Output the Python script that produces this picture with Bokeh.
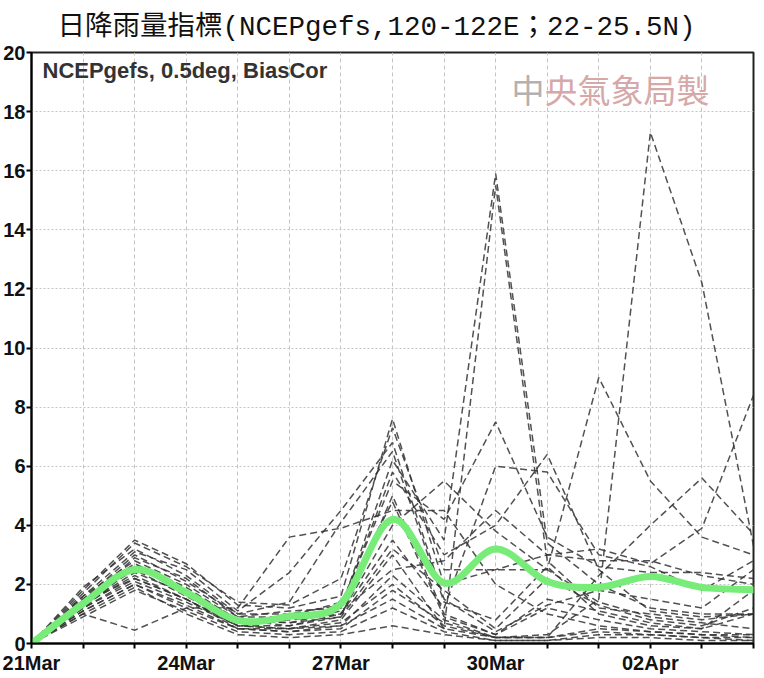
from bokeh.plotting import figure
from bokeh.models import FixedTicker, Label, Range1d
from bokeh.embed import file_html
from bokeh.resources import INLINE

# ---------------- data ----------------
dates = ["21Mar", "22Mar", "23Mar", "24Mar", "25Mar", "26Mar", "27Mar", "28Mar",
         "29Mar", "30Mar", "31Mar", "01Apr", "02Apr", "03Apr", "04Apr"]
labelled_dates = ["21Mar", "24Mar", "27Mar", "30Mar", "02Apr"]
y_ticks = [0, 2, 4, 6, 8, 10, 12, 14, 16, 18, 20]

# ensemble members (daily rainfall index, mm)
m00 = [0, 1.5, 2.6, 1.8, 0.8, 0.7, 0.9, 5.0, 1.0, 0.3, 1.2, 0.8, 0.5, 0.4, 0.3]
m01 = [0, 1.2, 2.2, 1.5, 0.6, 0.5, 0.8, 3.0, 0.5, 15.5, 2.8, 1.2, 1.0, 0.8, 1.0]
m02 = [0, 1.8, 3.5, 2.7, 1.3, 1.2, 1.6, 7.6, 2.0, 2.5, 3.0, 2.8, 2.8, 2.3, 2.0]
m03 = [0, 1.0, 0.45, 1.2, 1.2, 3.6, 3.9, 4.5, 4.5, 2.0, 1.0, 0.6, 0.4, 0.3, 0.2]
m04 = [0, 1.4, 2.9, 2.2, 0.9, 0.9, 1.2, 6.2, 3.5, 15.9, 3.4, 2.0, 1.2, 1.0, 1.0]
m05 = [0, 1.6, 3.1, 2.5, 1.1, 2.4, 4.5, 6.8, 1.5, 0.4, 1.3, 1.8, 1.5, 1.2, 2.5]
m06 = [0, 1.1, 2.0, 1.3, 0.5, 0.4, 0.6, 2.3, 0.8, 0.2, 0.2, 2.3, 4.0, 5.6, 3.7]
m07 = [0, 1.3, 2.4, 1.7, 0.7, 0.8, 1.0, 4.0, 5.5, 3.8, 2.5, 1.4, 0.9, 0.7, 0.5]
m08 = [0, 0.9, 1.8, 1.1, 0.4, 0.3, 0.4, 1.2, 0.4, 0.1, 0.1, 0.3, 0.3, 0.2, 0.1]
m09 = [0, 1.7, 3.4, 2.6, 1.4, 1.3, 2.2, 7.3, 2.5, 2.5, 2.5, 9.0, 5.5, 3.6, 3.0]
m10 = [0, 1.5, 2.7, 1.9, 0.8, 0.6, 1.0, 3.5, 1.2, 6.0, 5.8, 3.0, 2.6, 1.8, 2.8]
m11 = [0, 1.2, 2.1, 1.4, 0.6, 0.5, 0.7, 2.0, 0.6, 0.2, 0.2, 0.4, 0.3, 0.2, 0.2]
m12 = [0, 1.9, 3.2, 2.3, 1.0, 1.0, 1.3, 5.5, 4.2, 7.5, 3.6, 2.6, 2.4, 2.4, 2.2]
m13 = [0, 1.4, 2.5, 1.6, 0.7, 0.9, 1.4, 4.8, 0.9, 0.3, 1.5, 1.1, 0.7, 0.5, 1.8]
m14 = [0, 1.0, 1.9, 1.0, 0.3, 0.2, 0.3, 0.6, 0.3, 0.1, 0.1, 0.2, 0.2, 0.1, 0.1]
m15 = [0, 1.6, 2.8, 2.0, 0.9, 1.1, 1.2, 5.8, 3.0, 4.0, 6.4, 2.5, 1.1, 0.9, 1.0]
m16 = [0, 1.3, 2.3, 1.5, 0.6, 0.6, 0.9, 3.2, 1.8, 0.5, 2.2, 1.3, 0.8, 0.6, 1.2]
m17 = [0, 1.1, 2.0, 1.2, 0.5, 0.4, 0.5, 1.8, 0.7, 0.2, 0.3, 1.5, 17.3, 12.2, 3.3]
m18 = [0, 1.5, 3.0, 2.1, 1.0, 1.4, 4.1, 6.5, 1.4, 0.8, 2.6, 1.0, 0.6, 0.5, 1.0]
m19 = [0, 1.2, 2.6, 1.8, 0.8, 0.7, 1.1, 2.5, 2.8, 4.5, 3.0, 3.2, 2.7, 3.9, 8.4]
m20 = [0, 1.4, 2.2, 1.5, 0.5, 0.5, 0.6, 1.5, 0.5, 0.2, 0.2, 0.5, 0.4, 0.3, 0.3]
members = [m00, m01, m02, m03, m04, m05, m06, m07, m08, m09, m10,
           m11, m12, m13, m14, m15, m16, m17, m18, m19, m20]

# ensemble mean (green curve)
ens_mean = [0, 1.35, 2.5, 1.73, 0.78, 0.92, 1.35, 4.2, 2.05, 3.2, 2.1, 1.9, 2.27, 1.9, 1.82]

title_text = "日降雨量指標(NCEPgefs,120-122E；22-25.5N)"
subtitle_text = "NCEPgefs, 0.5deg, BiasCor"

day = list(range(len(dates)))

# ---------------- figure ----------------
p = figure(width=764, height=678,
           x_range=Range1d(0, len(dates) - 1), y_range=Range1d(0, 20),
           output_backend="svg", toolbar_location=None,
           min_border_left=29, min_border_right=11,
           min_border_top=52, min_border_bottom=35)
p.background_fill_color = "white"
p.border_fill_color = "white"
p.outline_line_color = "#222222"
p.outline_line_width = 2

p.title.text = title_text
p.title.align = "left"
p.title.offset = 26
p.title.text_font = "'Liberation Mono', 'Noto Sans CJK TC', monospace"
p.title.text_font_size = "27.5px"
p.title.text_font_style = "normal"
p.title.text_color = "#111111"
p.title.standoff = 19

lab_font = "'Liberation Sans', Arial, sans-serif"

p.yaxis.ticker = FixedTicker(ticks=y_ticks)
p.xaxis.ticker = FixedTicker(ticks=day)
p.xaxis.major_label_overrides = {i: (d if d in labelled_dates else "") for i, d in enumerate(dates)}
for ax in (p.xaxis[0], p.yaxis[0]):
    ax.axis_line_color = "black"
    ax.axis_line_width = 2
    ax.major_tick_line_color = "black"
    ax.major_tick_line_width = 2
    ax.major_tick_in = 0
    ax.major_tick_out = 5
    ax.minor_tick_line_color = None
    ax.major_label_text_font = lab_font
    ax.major_label_text_font_style = "bold"
    ax.major_label_text_font_size = "20px"
    ax.major_label_text_color = "#111111"
    ax.major_label_standoff = 1
p.xaxis.major_label_standoff = 3

p.xgrid.grid_line_color = "#c4c4c4"
p.xgrid.grid_line_dash = "4 3"
p.xgrid.grid_line_width = 1
p.ygrid.grid_line_color = "#c4c4c4"
p.ygrid.grid_line_dash = "2 2"
p.ygrid.grid_line_width = 1

# ensemble members
for m in members:
    p.line(day, m, line_color="#333333", line_width=1.5, line_dash="7 4", line_alpha=0.85)

# smooth mean curve (Catmull-Rom through the daily means, drawn as Bezier segments)
n = len(day)
bx0, by0, bx1, by1, bcx0, bcy0, bcx1, bcy1 = [], [], [], [], [], [], [], []
for i in range(n - 1):
    im = max(i - 1, 0)
    ip2 = min(i + 2, n - 1)
    bx0.append(day[i]); by0.append(ens_mean[i])
    bx1.append(day[i + 1]); by1.append(ens_mean[i + 1])
    bcx0.append(day[i] + (day[i + 1] - day[im]) / 6.0)
    bcy0.append(ens_mean[i] + (ens_mean[i + 1] - ens_mean[im]) / 6.0)
    bcx1.append(day[i + 1] - (day[ip2] - day[i]) / 6.0)
    bcy1.append(ens_mean[i + 1] - (ens_mean[ip2] - ens_mean[i]) / 6.0)
p.bezier(x0=bx0, y0=by0, x1=bx1, y1=by1, cx0=bcx0, cy0=bcy0, cx1=bcx1, cy1=bcy1,
         line_color="#78ec78", line_width=7, line_cap="round")

# annotations
p.add_layout(Label(x=11, y=573, x_units="screen", y_units="screen", text=subtitle_text,
                   text_font="'Liberation Sans', Arial, sans-serif", text_font_style="bold",
                   text_font_size="22px", text_color="#333333", text_baseline="middle"))
p.add_layout(Label(x=480, y=555, x_units="screen", y_units="screen", text="中",
                   text_font="'Noto Sans CJK TC'", text_font_size="33px",
                   text_color="#b4b0b0", text_baseline="middle"))
p.add_layout(Label(x=513, y=555, x_units="screen", y_units="screen", text="央氣象局製",
                   text_font="'Noto Sans CJK TC'", text_font_size="33px",
                   text_color="#d6a8a8", text_baseline="middle"))

open("out.html", "w").write(file_html(p, INLINE))
